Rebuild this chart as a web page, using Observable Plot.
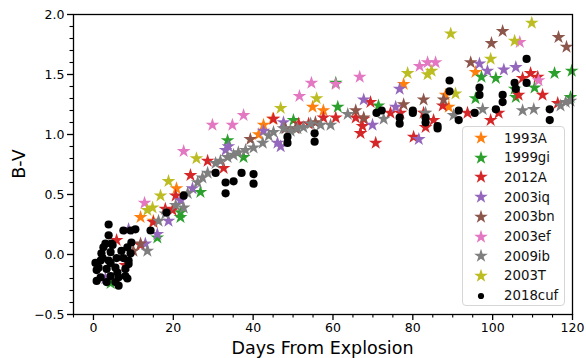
<!DOCTYPE html>
<html>
<head>
<meta charset="utf-8">
<script src="https://cdn.jsdelivr.net/npm/d3@7"></script>
<script src="https://cdn.jsdelivr.net/npm/@observablehq/plot@0.6"></script>
<style>
  html, body { margin: 0; padding: 0; background: white; }
  #wrap { position: relative; width: 586px; height: 358px; font-family: "DejaVu Sans", sans-serif; }
  #legend { position: absolute; left: 462px; top: 126px; width: 103px; height: 180px;
    border: 1px solid #d6d6d6; border-radius: 4px; background: rgba(255,255,255,0.85); box-sizing: border-box; }
  .item { position: absolute; left: 0; height: 20px; display: flex; align-items: center; font-size: 13.3px; color: #111; }
  .item svg { margin-left: 10px; margin-right: 15px; }
</style>
</head>
<body>
<div id="wrap"></div>
<script>
// ---- data ----
const seriesNames = ["1993A", "1999gi", "2012A", "2003iq", "2003bn", "2003ef", "2009ib", "2003T", "2018cuf"];
const seriesColors = ["#ff7f0e", "#2ca02c", "#d62728", "#9467bd", "#8c564b", "#e377c2", "#7f7f7f", "#bcbd22", "#000000"];

const days_1993A = [11.8, 15.0, 20.8, 41.4, 42.6, 44.9, 54.9, 57.6, 77.7, 88.2, 89.0, 95.7];
const bv_1993A   = [0.31, 0.28, 0.55, 1.00, 1.08, 1.13, 1.23, 1.20, 1.42, 1.33, 1.23, 1.52];

const days_1999gi = [4.3, 16.0, 21.8, 21.8, 26.8, 33.6, 37.6, 50.1, 60.7, 61.2, 71.4, 95.7, 97.2, 100.8, 105.5, 105.8, 110.5, 115.5, 119.8, 119.5];
const bv_1999gi   = [-0.24, 0.14, 0.35, 0.31, 0.52, 0.95, 0.81, 1.12, 1.43, 1.23, 1.24, 1.30, 1.48, 1.47, 1.38, 1.31, 1.39, 1.51, 1.53, 1.31];

const days_2012A = [5.8, 8.0, 11.8, 15.0, 18.0, 19.8, 20.6, 24.3, 28.6, 32.6, 45.1, 51.4, 53.9, 57.6, 60.7, 65.7, 67.7, 67.4, 66.9, 69.4, 70.7, 74.4, 76.9, 80.2, 82.7, 83.2, 85.2, 87.5, 93.7, 99.5, 101.5, 106.5, 107.5, 109.5, 111.3, 112.5, 116.3];
const bv_2012A   = [0.12, -0.09, 0.08, 0.27, 0.38, 0.37, 0.49, 0.66, 0.78, 0.72, 1.13, 1.09, 1.09, 1.14, 1.14, 1.14, 1.13, 1.07, 1.01, 1.27, 0.93, 1.18, 1.18, 0.98, 1.18, 1.06, 1.12, 1.24, 1.18, 1.12, 1.18, 1.33, 1.47, 1.51, 1.48, 1.33, 1.26];

const days_2003iq = [3.0, 8.8, 13.0, 16.0, 18.8, 21.8, 24.8, 33.1, 33.8, 42.6, 46.1, 46.9, 47.6, 67.7, 69.9, 75.7, 76.7, 81.5, 96.7, 98.7, 102.8, 105.8];
const bv_2003iq   = [-0.20, 0.21, 0.09, 0.17, 0.28, 0.45, 0.55, 0.87, 0.90, 1.03, 0.93, 0.90, 1.10, 1.29, 1.08, 1.23, 1.38, 0.96, 1.59, 1.53, 1.54, 1.56];

const days_2003bn = [10.0, 11.8, 39.3, 48.1, 50.6, 55.6, 65.7, 67.7, 77.7, 82.7, 87.7, 94.5, 99.7, 102.5, 116.5, 118.5];
const bv_2003bn   = [0.03, 0.09, 0.96, 1.05, 1.05, 1.10, 1.20, 1.14, 1.25, 1.29, 1.29, 1.60, 1.76, 1.86, 1.81, 1.73];

const days_2003ef = [12.8, 22.6, 29.8, 34.8, 37.6, 51.6, 54.6, 60.7, 66.7, 81.7, 83.7, 85.7, 106.8, 111.5];
const bv_2003ef   = [0.43, 0.86, 1.08, 1.08, 1.16, 1.32, 1.43, 1.42, 1.48, 1.57, 1.60, 1.60, 1.77, 1.45];

const days_2009ib = [13.5, 16.3, 18.0, 20.6, 22.6, 23.6, 26.1, 27.3, 28.6, 30.6, 31.8, 33.6, 35.1, 36.3, 38.1, 40.1, 42.4, 43.9, 45.1, 47.6, 49.4, 51.1, 52.6, 54.4, 56.9, 59.4, 63.7, 72.7, 83.2, 90.2, 97.5, 107.5, 110.3, 117.0, 118.3, 119.5];
const bv_2009ib   = [0.03, 0.28, 0.34, 0.41, 0.39, 0.51, 0.60, 0.64, 0.68, 0.76, 0.78, 0.81, 0.83, 0.85, 0.87, 0.89, 0.93, 0.99, 1.02, 1.05, 1.03, 1.05, 1.06, 1.09, 1.08, 1.08, 1.17, 1.13, 1.18, 1.16, 1.21, 1.20, 1.21, 1.24, 1.27, 1.28];

const days_2003T = [13.5, 14.8, 16.8, 18.8, 25.8, 46.9, 55.9, 78.7, 83.7, 84.7, 89.5, 90.7, 99.5, 105.5, 109.8];
const bv_2003T   = [0.37, 0.39, 0.49, 0.61, 0.80, 1.22, 1.30, 1.51, 1.50, 1.53, 1.84, 1.34, 1.63, 1.78, 1.93];

const days_2018cuf = [3.8, 3.8, 3.0, 4.5, 7.5, 9.3, 10.5, 9.5, 2.0, 4.3, 7.0, 9.3, 2.5, 4.8, 8.5, 1.8, 3.8, 5.8, 8.8, 7.5, 1.3, 3.3, 5.5, 8.0, 0.8, 1.8, 4.3, 6.3, 8.0, 0.8, 3.3, 5.5, 6.3, 8.5, 6.0, 0.5, 2.3, 4.3, 8.8,
  14.3, 18.3, 22.6, 30.6, 33.1, 33.1, 35.1, 37.1, 40.1, 40.1, 48.6, 48.6, 55.4, 55.4, 70.9, 72.2, 76.7, 76.7, 80.0, 80.0, 83.2, 83.2, 86.2, 86.2, 89.2, 89.2, 91.5, 91.5, 95.5, 96.7, 96.7, 100.8, 102.5, 102.5, 105.5, 105.8, 108.5, 108.5, 114.3, 114.3];
const bv_2018cuf   = [0.25, 0.16, 0.09, 0.09, 0.20, 0.20, 0.21, 0.10, 0.01, 0.02, 0.03, 0.01, 0.06, 0.08, 0.06, -0.05, -0.05, -0.03, -0.05, -0.03, -0.11, -0.12, -0.11, -0.12, -0.13, -0.19, -0.18, -0.19, -0.18, -0.22, -0.23, -0.23, -0.26, -0.20, -0.15, -0.07, -0.03, -0.07, -0.08,
  0.20, 0.35, 0.49, 0.68, 0.60, 0.51, 0.61, 0.68, 0.67, 0.59, 0.98, 0.93, 1.01, 0.94, 1.18, 1.20, 1.14, 1.09, 1.20, 1.18, 1.14, 1.10, 1.07, 1.05, 1.45, 1.36, 1.20, 1.12, 1.18, 1.39, 1.33, 1.21, 1.33, 1.27, 1.43, 1.38, 1.63, 1.43, 1.21, 1.12];

const xTicks = [0, 20, 40, 60, 80, 100, 120];
const yTicks = [-0.5, 0.0, 0.5, 1.0, 1.5, 2.0];

// ---- build ----
const seriesDays = [days_1993A, days_1999gi, days_2012A, days_2003iq, days_2003bn, days_2003ef, days_2009ib, days_2003T, days_2018cuf];
const seriesBV = [bv_1993A, bv_1999gi, bv_2012A, bv_2003iq, bv_2003bn, bv_2003ef, bv_2009ib, bv_2003T, bv_2018cuf];

const pointMarks = seriesNames.map((name, i) => {
  const rows = seriesDays[i].map((d, j) => ({day: d, bv: seriesBV[i][j]}));
  const isCircle = name === "2018cuf";
  return Plot.dot(rows, {x: "day", y: "bv", fill: seriesColors[i], stroke: "none",
    symbol: isCircle ? "circle" : "star", r: isCircle ? 4.1 : 4.3});
});

const fmt = d => (d < 0 ? "\u2212" : "") + Math.abs(d).toFixed(1);
const minorX = d3.range(-5, 121, 5).filter(v => !xTicks.includes(v));
const minorY = d3.range(-5, 21).map(v => v / 10).filter(v => !yTicks.some(t => Math.abs(t - v) < 1e-9));

const svg = Plot.plot({
  width: 586, height: 358,
  marginLeft: 73, marginRight: 14, marginTop: 14, marginBottom: 44,
  x: {domain: [-5, 120], label: null},
  y: {domain: [-0.5, 2.0], label: null},
  style: {fontFamily: "DejaVu Sans, sans-serif", fontSize: "12.5px", color: "black", background: "white"},
  marks: [
    ...pointMarks,
    Plot.axisX(minorX, {tickSize: 3.5, strokeWidth: 1.1, tickFormat: () => "", label: null}),
    Plot.axisX(xTicks, {tickSize: 6, strokeWidth: 1.3, tickPadding: 3, tickFormat: d => String(d), fontSize: 12.5, label: null}),
    Plot.axisY(minorY, {tickSize: 3.5, strokeWidth: 1.1, tickFormat: () => "", label: null}),
    Plot.axisY(yTicks, {tickSize: 6, strokeWidth: 1.3, tickPadding: 3, tickFormat: fmt, fontSize: 12.5, label: null}),
    Plot.frame({stroke: "black", strokeWidth: 1.3})
  ]
});

const s = d3.select(svg);
s.append("text").attr("x", 322.5).attr("y", 354).attr("text-anchor", "middle")
  .attr("font-family", "DejaVu Sans, sans-serif").attr("font-size", 17.5).attr("fill", "black")
  .text("Days From Explosion");
s.append("text").attr("transform", "translate(25,164) rotate(-90)").attr("text-anchor", "middle")
  .attr("font-family", "DejaVu Sans, sans-serif").attr("font-size", 17.5).attr("fill", "black")
  .text("B-V");

const wrap = document.getElementById("wrap");
wrap.appendChild(svg);

// legend (overlaid inside the plot, lower right)
const legend = document.createElement("div");
legend.id = "legend";
wrap.appendChild(legend);
seriesNames.forEach((name, i) => {
  const item = document.createElement("div");
  item.className = "item";
  item.style.top = (1 + i * 19.7) + "px";
  const isCircle = name === "2018cuf";
  const sym = d3.symbol(isCircle ? d3.symbolCircle : d3.symbolStar, Math.PI * (isCircle ? 3.1 * 3.1 : 4.3 * 4.3))();
  item.innerHTML = `<svg width="16" height="16" viewBox="-8 -8 16 16"><path d="${sym}" fill="${seriesColors[i]}"></path></svg><span>${name}</span>`;
  legend.appendChild(item);
});
</script>
</body>
</html>
